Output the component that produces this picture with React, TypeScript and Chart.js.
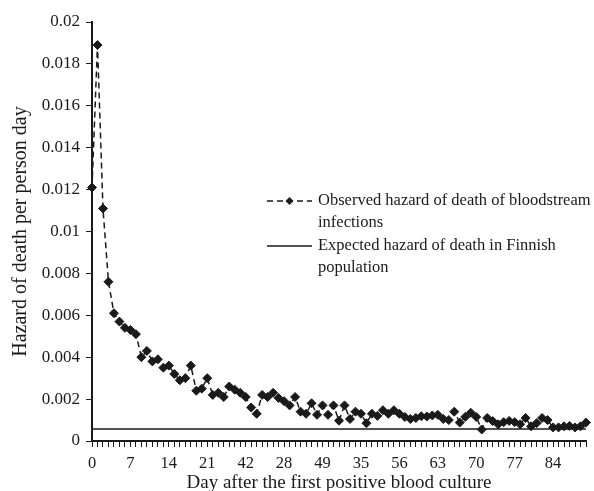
import { useEffect, useRef } from "react";
import { Chart, registerables } from "chart.js";

Chart.register(...registerables);

// Observed hazard of death per person-day, days 0..90
const OBSERVED: number[] = [
  0.0121, 0.0189, 0.0111, 0.0076, 0.0061, 0.0057, 0.0054, 0.0053, 0.0051, 0.0040,
  0.0043, 0.0038, 0.0039, 0.0035, 0.0036, 0.0032, 0.0029, 0.0030, 0.0036, 0.0024,
  0.0025, 0.0030, 0.0022, 0.0023, 0.0021, 0.0026, 0.00245, 0.0023, 0.0021, 0.0016,
  0.0013, 0.0022, 0.0021, 0.0023, 0.00205, 0.0019, 0.0017, 0.0021, 0.0014, 0.0013,
  0.0018, 0.00125, 0.0017, 0.00125, 0.0017, 0.00097, 0.0017, 0.00105, 0.0014, 0.0013,
  0.00085, 0.0013, 0.0012, 0.00147, 0.0013, 0.00147, 0.0013, 0.00115, 0.00105, 0.0011,
  0.00118, 0.00117, 0.00122, 0.00125, 0.00105, 0.0010, 0.0014, 0.00088, 0.00115, 0.00135,
  0.00115, 0.00055, 0.0011, 0.00095, 0.0008, 0.0009, 0.00096, 0.0009, 0.0008, 0.0011,
  0.0007, 0.00085, 0.0011, 0.0010, 0.00065, 0.00065, 0.0007, 0.00072, 0.00065, 0.0007,
  0.00088,
];

// Expected hazard of death in the Finnish population (flat reference level)
const EXPECTED_HAZARD = 0.00057;

// Day categories
const DAYS: string[] = OBSERVED.map((_, i) => String(i));

// Tick labels shown every 7th day (as printed in the original)
const TICK_LABELS: string[] = ["0", "7", "14", "21", "42", "28", "49", "35", "56", "63", "70", "77", "84"];
const TICK_EVERY = 7;

const LEGEND_TEXT: string[][] = [
  ["Observed hazard of death of bloodstream", "infections"],
  ["Expected hazard of death in Finnish", "population"],
];

const Y_TITLE = "Hazard of death per person day";
const X_TITLE = "Day after the first positive blood culture";

const FONT = "'Liberation Serif', 'Times New Roman', serif";
const INK = "#1a1a1a";

const legendPlugin = {
  id: "customLegend",
  afterDraw(chart: any) {
    const ctx: CanvasRenderingContext2D = chart.ctx;
    const ds = chart.data.datasets;
    const entryY = [201, 246];
    const lineX0 = 267;
    const lineX1 = 312;
    const textX = 318;
    const lineGap = 21.5;
    ctx.save();
    ctx.font = `16.5px ${FONT}`;
    ctx.fillStyle = INK;
    ctx.textBaseline = "middle";
    ctx.textAlign = "left";
    ds.forEach((d: any, i: number) => {
      const y = entryY[i];
      ctx.save();
      ctx.strokeStyle = d.borderColor;
      ctx.lineWidth = d.borderWidth;
      ctx.setLineDash(d.borderDash || []);
      ctx.beginPath();
      ctx.moveTo(lineX0, y);
      ctx.lineTo(lineX1, y);
      ctx.stroke();
      ctx.restore();
      if (d.pointRadius > 0) {
        const cx = (lineX0 + lineX1) / 2;
        const r = 4;
        ctx.beginPath();
        ctx.moveTo(cx - r, y);
        ctx.lineTo(cx, y - r);
        ctx.lineTo(cx + r, y);
        ctx.lineTo(cx, y + r);
        ctx.closePath();
        ctx.fillStyle = d.pointBackgroundColor;
        ctx.fill();
      }
      ctx.fillStyle = INK;
      LEGEND_TEXT[i].forEach((t, k) => {
        ctx.fillText(t, textX, y + k * lineGap);
      });
    });
    ctx.restore();
  },
};

export default function App() {
  const canvasRef = useRef<HTMLCanvasElement | null>(null);

  useEffect(() => {
    if (!canvasRef.current) return;
    const chart = new Chart(canvasRef.current, {
      type: "line",
      data: {
        labels: DAYS,
        datasets: [
          {
            label: LEGEND_TEXT[0].join(" "),
            data: OBSERVED,
            borderColor: INK,
            borderWidth: 1.5,
            borderDash: [6, 4],
            pointStyle: "rectRot",
            pointRadius: 4.5,
            pointBorderWidth: 1,
            pointBackgroundColor: INK,
            pointBorderColor: INK,
            tension: 0,
            clip: false as any,
          } as any,
          {
            label: LEGEND_TEXT[1].join(" "),
            data: DAYS.map(() => EXPECTED_HAZARD),
            borderColor: INK,
            borderWidth: 1.5,
            pointRadius: 0,
            tension: 0,
          } as any,
        ],
      },
      options: {
        animation: false,
        responsive: true,
        maintainAspectRatio: false,
        layout: { padding: { top: 22, right: 8, left: 0, bottom: 0 } },
        plugins: {
          legend: { display: false },
          tooltip: { enabled: false },
        },
        scales: {
          x: {
            type: "category",
            grid: {
              display: true,
              drawOnChartArea: false,
              drawTicks: true,
              tickLength: 6,
              color: INK,
              lineWidth: 1,
            },
            border: { display: true, color: INK, width: 2 },
            ticks: {
              autoSkip: false,
              maxRotation: 0,
              minRotation: 0,
              color: INK,
              padding: 7,
              font: { family: FONT, size: 16.5 },
              callback: (_v: any, i: number) =>
                i % TICK_EVERY === 0 ? TICK_LABELS[i / TICK_EVERY] ?? "" : "",
            },
            title: {
              display: true,
              text: X_TITLE,
              color: INK,
              font: { family: FONT, size: 19, lineHeight: 0.85 },
              padding: { top: 0, bottom: 0 },
            },
            afterFit: (s: any) => {
              s.height = 50;
            },
          },
          y: {
            min: 0,
            max: 0.02,
            grid: {
              display: true,
              drawOnChartArea: false,
              drawTicks: true,
              tickLength: 6,
              color: INK,
              lineWidth: 1,
            },
            border: { display: true, color: INK, width: 2 },
            ticks: {
              stepSize: 0.002,
              color: INK,
              padding: 6,
              font: { family: FONT, size: 17 },
              callback: (v: any) => String(Number(Number(v).toFixed(4))),
            },
            title: {
              display: true,
              text: Y_TITLE,
              color: INK,
              font: { family: FONT, size: 20, lineHeight: 1 },
              padding: { top: 11, bottom: 0 },
            },
            afterFit: (s: any) => {
              s.width = 92;
            },
          },
        },
      },
      plugins: [legendPlugin],
    });
    return () => chart.destroy();
  }, []);

  return (
    <div style={{ position: "absolute", left: 0, top: 0, width: 594, height: 491 }}>
      <canvas ref={canvasRef} />
    </div>
  );
}
